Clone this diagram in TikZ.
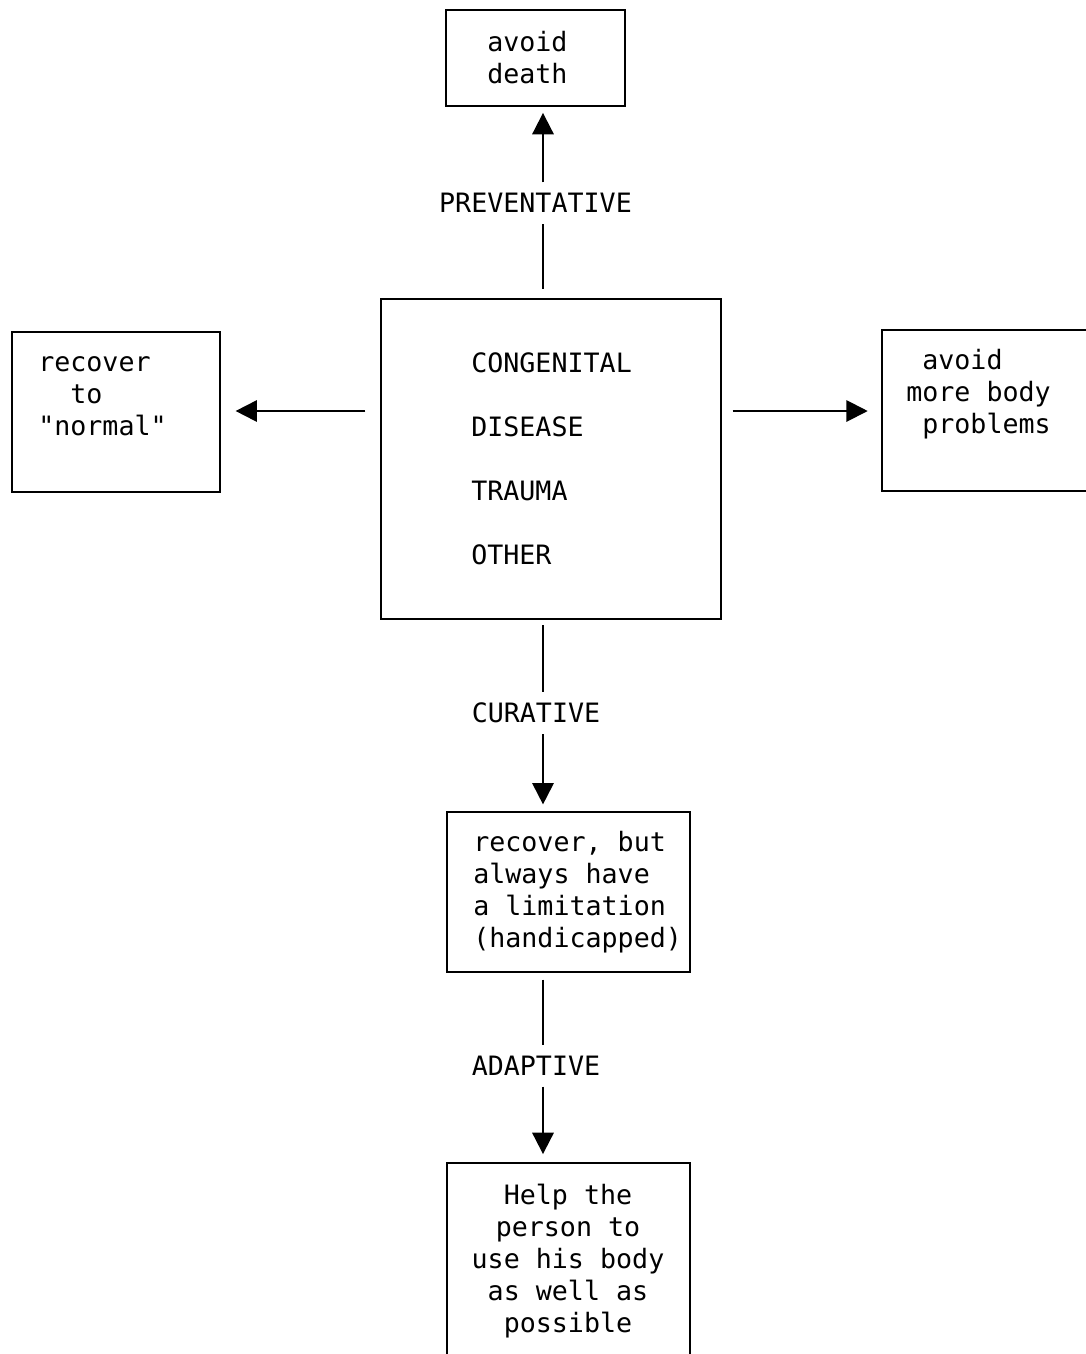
\documentclass[tikz,border=0pt]{standalone}
\usepackage{fontspec}
\setmonofont{DejaVu Sans Mono}
\usetikzlibrary{arrows.meta,fit}
\newcommand\tw{\fontsize{20}{24}\ttfamily}
\newcommand\ind{\hphantom{x}}

\begin{document}
\begin{tikzpicture}[x=0.75pt,y=-0.75pt,
  box/.style={draw,line width=1.4pt,inner sep=0pt},
  % multi-line texts are placed by the baseline of their last line
  body/.style={font=\tw,align=left,anchor=base west,inner sep=0pt},
  lbl/.style={font=\tw,inner xsep=0pt,inner ysep=8pt},
  link/.style={line width=1.5pt},
  arr/.style={link,-{Triangle[length=16pt,width=16pt]}}]

\clip (0,0) rectangle (1086,1354);
\fill[white] (0,0) rectangle (1086,1354);

% boxes
\node[box,fit={(446,10) (625,106)}] (top) {};
\node[box,fit={(381,299) (721,619)}] (cause) {};
\node[box,fit={(12,332) (220,492)}] (left) {};
\node[box,fit={(882,330) (1100,491)}] (right) {};
\node[box,fit={(447,812) (690,972)}] (limit) {};
\node[box,fit={(447,1163) (690,1380)}] (help) {};

% box texts
\node[body] (toptext) at (487,83) {avoid\\death};
\node[body] (c1) at (471,372) {CONGENITAL};
\node[body] (c2) at (471,436) {DISEASE};
\node[body] (c3) at (471,500) {TRAUMA};
\node[body] (c4) at (471,564) {OTHER};
\node[body] (lefttext) at (38,435) {recover\\\ind\ind to\\"normal"};
\node[body] (righttext) at (906,433) {\ind avoid\\more body\\\ind problems};
\node[body] (limittext) at (473,947) {recover, but\\always have\\a limitation\\(handicapped)};
\node[font=\tw,align=center,anchor=base,inner sep=0pt] (helptext) at (568,1332)
  {Help the\\person to\\use his body\\as well as\\possible};

% connector labels
\coordinate (spine) at (543,0);
\coordinate (mid) at (0,411);
\node[lbl] (prev) at (535.5,203) {PREVENTATIVE};
\node[lbl] (cur) at (536,713) {CURATIVE};
\node[lbl] (adapt) at (536,1066) {ADAPTIVE};

% connectors
\draw[link,shorten <=7pt] (cause.north -| spine) -- (prev.south -| spine);
\draw[arr,shorten >=4.5pt] (prev.north -| spine) -- (top.south -| spine);
\draw[arr,shorten <=11pt,shorten >=11pt] (cause.west |- mid) -- (left.east |- mid);
\draw[arr,shorten <=8pt,shorten >=10pt] (cause.east |- mid) -- (right.west |- mid);
\draw[link,shorten <=4pt] (cause.south -| spine) -- (cur.north -| spine);
\draw[arr,shorten >=5pt] (cur.south -| spine) -- (limit.north -| spine);
\draw[link,shorten <=5pt] (limit.south -| spine) -- (adapt.north -| spine);
\draw[arr,shorten >=6pt] (adapt.south -| spine) -- (help.north -| spine);
\end{tikzpicture}
\end{document}
